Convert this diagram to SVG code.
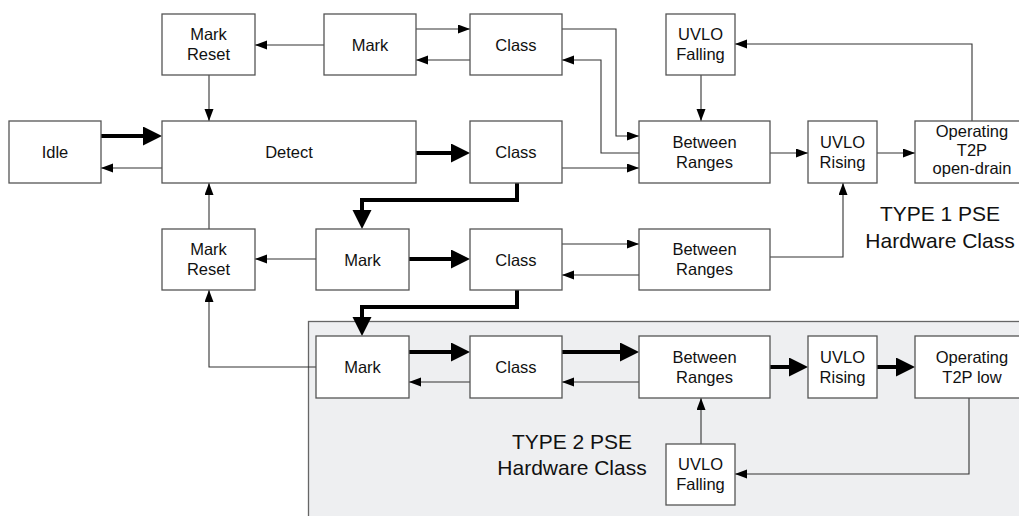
<svg xmlns="http://www.w3.org/2000/svg" width="1019" height="516" viewBox="0 0 1019 516">
<style>
.box{fill:#fff;stroke:#555;stroke-width:1.3}
.t{font-family:"Liberation Sans",Arial,sans-serif;font-size:16.5px;fill:#111;text-anchor:middle}
.big{font-family:"Liberation Sans",Arial,sans-serif;font-size:21px;fill:#111;text-anchor:middle}
.thin{fill:none;stroke:#333;stroke-width:1.1;marker-end:url(#ah)}
.plain{fill:none;stroke:#333;stroke-width:1.1}
.thick{fill:none;stroke:#000;stroke-width:4;marker-end:url(#ahk)}
</style>
<defs>
<marker id="ah" markerUnits="userSpaceOnUse" markerWidth="12" markerHeight="10" refX="12" refY="4.5" orient="auto"><path d="M0,0 L12,4.5 L0,9 z" fill="#000"/></marker>
<marker id="ahk" markerUnits="userSpaceOnUse" markerWidth="20" markerHeight="20" refX="8" refY="9.5" orient="auto"><path d="M0,0 L19,9.5 L0,19 z" fill="#000"/></marker>
</defs>
<rect width="1019" height="516" fill="#fff"/>
<g id="panel-type2"><rect x="308.5" y="321.5" width="720" height="210" fill="#eeeff1" stroke="#666" stroke-width="1.3"/></g>

<g id="connectors">
<path class="thin" d="M324,45 H255"/>
<path class="thin" d="M416,29 H470"/>
<path class="thin" d="M470,60 H416"/>
<path class="thin" d="M562,29 H616 V136 H639"/>
<path class="thin" d="M639,153 H601 V60 H562"/>
<path class="thin" d="M701,75 V121"/>
<path class="thin" d="M972,121 V44 H735"/>
<path class="thin" d="M209,75 V121"/>
<path class="thick" d="M101,136 H151"/>
<path class="thin" d="M162,168 H101"/>
<path class="thick" d="M416,153 H459"/>
<path class="thin" d="M562,168 H639"/>
<path class="thin" d="M770,153 H808"/>
<path class="thin" d="M877,153 H915"/>
<path class="thick" d="M517,183 V200 H362 V218"/>
<path class="thin" d="M209,229 V183"/>
<path class="thin" d="M316,259 H255"/>
<path class="thick" d="M409,259 H459"/>
<path class="thin" d="M562,244 H639"/>
<path class="thin" d="M639,275 H562"/>
<path class="thin" d="M770,257 H843 V183"/>
<path class="thick" d="M517,290 V307 H362 V325"/>
<path class="thin" d="M316,367 H209 V290"/>
<path class="thick" d="M409,352 H459"/>
<path class="thin" d="M470,382 H409"/>
<path class="thick" d="M562,352 H628"/>
<path class="thin" d="M639,382 H562"/>
<path class="thick" d="M770,367 H797"/>
<path class="thick" d="M877,367 H904"/>
<path class="thin" d="M969,398 V474 H735"/>
<path class="thin" d="M701,444 V398"/>
</g>

<g id="mark-reset-1"><rect class="box" x="162" y="14" width="93" height="61"/><text class="t" x="208.5" y="40">Mark</text><text class="t" x="208.5" y="60">Reset</text></g>
<g id="mark-1"><rect class="box" x="324" y="14" width="92" height="61"/><text class="t" x="370" y="50.5">Mark</text></g>
<g id="class-1"><rect class="box" x="470" y="14" width="92" height="61"/><text class="t" x="516" y="50.5">Class</text></g>
<g id="uvlo-falling-1"><rect class="box" x="666" y="14" width="69" height="61"/><text class="t" x="700.5" y="40">UVLO</text><text class="t" x="700.5" y="60">Falling</text></g>

<g id="idle"><rect class="box" x="9" y="121" width="92" height="62"/><text class="t" x="55" y="158">Idle</text></g>
<g id="detect"><rect class="box" x="162" y="121" width="254" height="62"/><text class="t" x="289" y="158">Detect</text></g>
<g id="class-2"><rect class="box" x="470" y="121" width="92" height="62"/><text class="t" x="516" y="158">Class</text></g>
<g id="between-1"><rect class="box" x="639" y="121" width="131" height="62"/><text class="t" x="704.5" y="147.5">Between</text><text class="t" x="704.5" y="167.5">Ranges</text></g>
<g id="uvlo-rising-1"><rect class="box" x="808" y="121" width="69" height="62"/><text class="t" x="842.5" y="147.5">UVLO</text><text class="t" x="842.5" y="167.5">Rising</text></g>
<g id="operating-1"><rect class="box" x="915" y="121" width="114" height="62"/><text class="t" x="972" y="137">Operating</text><text class="t" x="972" y="155.5">T2P</text><text class="t" x="972" y="174">open-drain</text></g>

<g id="mark-reset-2"><rect class="box" x="162" y="229" width="93" height="61"/><text class="t" x="208.5" y="255">Mark</text><text class="t" x="208.5" y="275">Reset</text></g>
<g id="mark-2"><rect class="box" x="316" y="229" width="93" height="61"/><text class="t" x="362.5" y="265.5">Mark</text></g>
<g id="class-3"><rect class="box" x="470" y="229" width="92" height="61"/><text class="t" x="516" y="265.5">Class</text></g>
<g id="between-2"><rect class="box" x="639" y="229" width="131" height="61"/><text class="t" x="704.5" y="255">Between</text><text class="t" x="704.5" y="275">Ranges</text></g>
<g id="type1-label"><text class="big" x="940" y="221">TYPE 1 PSE</text><text class="big" x="940" y="248">Hardware Class</text></g>

<g id="mark-3"><rect class="box" x="316" y="336" width="93" height="62"/><text class="t" x="362.5" y="373">Mark</text></g>
<g id="class-4"><rect class="box" x="470" y="336" width="92" height="62"/><text class="t" x="516" y="373">Class</text></g>
<g id="between-3"><rect class="box" x="639" y="336" width="131" height="62"/><text class="t" x="704.5" y="362.5">Between</text><text class="t" x="704.5" y="382.5">Ranges</text></g>
<g id="uvlo-rising-2"><rect class="box" x="808" y="336" width="69" height="62"/><text class="t" x="842.5" y="362.5">UVLO</text><text class="t" x="842.5" y="382.5">Rising</text></g>
<g id="operating-2"><rect class="box" x="915" y="336" width="114" height="62"/><text class="t" x="972" y="362.5">Operating</text><text class="t" x="972" y="382.5">T2P low</text></g>
<g id="uvlo-falling-2"><rect class="box" x="666" y="444" width="69" height="61"/><text class="t" x="700.5" y="470">UVLO</text><text class="t" x="700.5" y="490">Falling</text></g>
<g id="type2-label"><text class="big" x="572" y="449">TYPE 2 PSE</text><text class="big" x="572" y="475">Hardware Class</text></g>
</svg>
